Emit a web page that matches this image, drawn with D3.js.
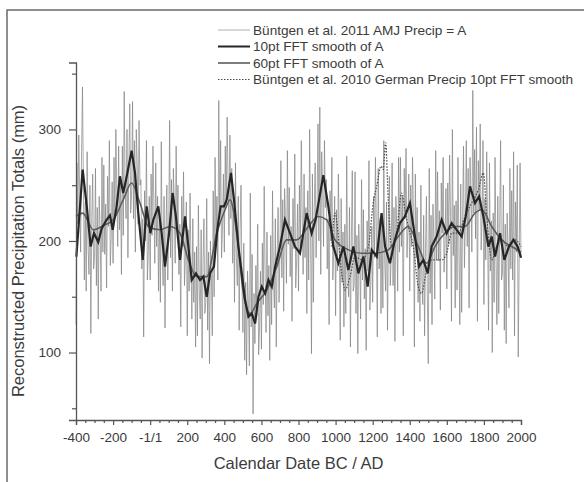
<!DOCTYPE html>
<html>
<head>
<meta charset="utf-8">
<script src="https://cdn.jsdelivr.net/npm/d3@7"></script>
<style>
  body { margin: 0; background: #fff; }
  svg { display: block; font-family: "Liberation Sans", Arial, sans-serif; }
</style>
</head>
<body>
<div id="chart"></div>
<script>
// annual AMJ precipitation (mm), one value every 5 years from -400 to 2000
var annualPrecip = [
  125, 270, 215, 295, 240, 190, 280, 338, 250, 165, 235, 155, 280, 195, 170, 250, 117, 220, 260, 175, // -400
  185, 265, 160, 230, 130, 240, 210, 155, 275, 190, 268, 188, 233, 158, 258, 213, 290, 178, 203, 253, // -300
  180, 275, 220, 300, 245, 195, 285, 210, 255, 170, 285, 205, 334, 245, 220, 300, 185, 270, 323, 225, // -200
  245, 325, 220, 290, 190, 300, 270, 215, 308, 250, 255, 175, 220, 114, 245, 200, 290, 165, 190, 240, // -100
  165, 260, 205, 285, 230, 180, 270, 195, 240, 155, 225, 145, 289, 185, 160, 240, 122, 210, 250, 165, // 0
  210, 308, 185, 255, 155, 265, 235, 180, 285, 215, 250, 170, 215, 123, 240, 195, 262, 160, 185, 235, // 100
  115, 210, 155, 243, 180, 130, 220, 145, 190, 105, 195, 115, 232, 155, 130, 210, 95, 180, 220, 135,  // 200
  145, 238, 120, 190, 90, 200, 170, 115, 245, 150, 275, 195, 240, 165, 326, 220, 290, 185, 210, 260,  // 300
  190, 285, 230, 311, 255, 205, 295, 220, 265, 180, 225, 145, 270, 185, 160, 240, 120, 210, 250, 165, // 400
  118, 198, 93, 163, 80, 173, 143, 88, 243, 123, 188, 45, 153, 108, 178, 133, 215, 98, 123, 173,      // 500
  103, 198, 143, 249, 168, 118, 208, 133, 178, 93, 205, 125, 245, 165, 140, 220, 105, 190, 230, 145,  // 600
  192, 272, 167, 237, 137, 247, 217, 162, 281, 197, 248, 168, 213, 128, 238, 193, 278, 158, 183, 233, // 700
  155, 250, 195, 290, 220, 170, 260, 185, 230, 135, 245, 165, 300, 205, 99, 260, 145, 230, 270, 185,  // 800
  225, 305, 200, 320, 170, 280, 250, 195, 290, 230, 255, 175, 220, 125, 245, 200, 275, 165, 190, 240, // 900
  133, 228, 173, 260, 198, 111, 238, 163, 208, 123, 215, 135, 276, 175, 150, 230, 105, 200, 263, 155, // 1000
  160, 262, 135, 205, 99, 215, 185, 130, 255, 165, 228, 148, 193, 102, 218, 173, 272, 138, 163, 213,  // 1100
  145, 240, 185, 275, 210, 114, 265, 175, 220, 135, 220, 140, 290, 180, 155, 235, 120, 205, 258, 160, // 1200
  185, 270, 160, 230, 110, 240, 210, 155, 275, 190, 275, 195, 240, 115, 265, 220, 283, 185, 210, 260, // 1300
  155, 250, 195, 275, 220, 105, 260, 185, 230, 145, 208, 128, 250, 168, 143, 223, 115, 193, 240, 148, // 1400
  90, 265, 153, 223, 125, 233, 203, 148, 281, 183, 262, 182, 227, 138, 252, 207, 275, 172, 197, 247,  // 1500
  157, 252, 197, 277, 222, 128, 300, 187, 232, 140, 236, 156, 275, 196, 125, 251, 136, 221, 285, 176, // 1600
  220, 290, 195, 265, 140, 275, 245, 190, 335, 225, 282, 202, 302, 128, 272, 227, 305, 192, 217, 290, // 1700
  143, 238, 183, 280, 208, 120, 270, 173, 218, 100, 225, 145, 275, 185, 125, 240, 135, 210, 290, 165, // 1800
  170, 250, 120, 215, 108, 225, 195, 140, 265, 175, 245, 165, 280, 115, 235, 190, 268, 96, 180, 270,  // 1900
  185                                                                                                 // 2000
];

// 10pt FFT smooth of A
var smooth10Years = [
  -398, -364, -342, -321, -303, -280, -262, -235, -217, -202, -181, -163, -145, -123,
  -100, -82, -64, -40, -19, 1, 17, 44, 62, 80, 102, 121, 139, 161, 188, 206, 224, 247,
  269, 287, 305, 323, 344, 362, 380, 398, 413, 436, 452, 476, 494, 512, 530, 548, 566,
  584, 602, 620, 638, 656, 674, 700, 727, 754, 781, 808, 844, 871, 892, 934, 961, 988,
  1015, 1042, 1069, 1096, 1123, 1150, 1173, 1195, 1222, 1248, 1267, 1293, 1320, 1347,
  1374, 1401, 1428, 1450, 1473, 1497, 1518, 1545, 1572, 1599, 1626, 1653, 1680, 1702,
  1725, 1752, 1774, 1797, 1824, 1842, 1860, 1887, 1910, 1935, 1959, 1982, 2000
];
var smooth10Values = [
  186, 264, 231, 195, 207, 199, 211, 219, 223, 210, 231, 258, 243, 261,
  281, 261, 225, 183, 231, 207, 219, 231, 207, 177, 207, 243, 222, 183, 222, 195, 165, 171,
  165, 168, 150, 171, 177, 210, 231, 231, 237, 261, 237, 195, 171, 147, 132, 135, 126,
  150, 159, 153, 165, 159, 177, 195, 219, 207, 195, 189, 225, 207, 219, 259, 231, 195,
  180, 195, 174, 195, 171, 186, 159, 192, 186, 225, 195, 180, 201, 216,
  222, 234, 204, 177, 183, 171, 195, 204, 219, 207, 216, 210, 204, 222,
  249, 234, 240, 222, 195, 204, 186, 207, 183, 195, 201, 195, 185
];

// 60pt FFT smooth of A
var smooth60Years = [
  -400, -364, -306, -252, -199, -145, -100, -55, -10, 53, 107, 161, 206, 251, 305, 359,
  404, 431, 467, 503, 539, 575, 629, 683, 736, 790, 853, 907, 952, 997, 1069, 1141,
  1213, 1284, 1338, 1392, 1446, 1491, 1536, 1590, 1644, 1698, 1752, 1788, 1842, 1896,
  1950, 2000
];
var smooth60Values = [
  222, 225, 210, 214, 219, 237, 252, 234, 213, 210, 213, 207, 183, 168, 168, 207,
  228, 237, 207, 153, 135, 144, 156, 177, 201, 201, 213, 222, 219, 201, 192, 189,
  189, 192, 204, 213, 195, 180, 195, 207, 213, 213, 225, 228, 213, 201,
  195, 190
];

// Buntgen et al. 2010 German precip, 10pt FFT smooth
var germanYears = [
  980, 997, 1033, 1051, 1078, 1105, 1141, 1177, 1203, 1222, 1245, 1257, 1270, 1284,
  1302, 1329, 1356, 1374, 1392, 1419, 1446, 1464, 1491, 1518, 1572, 1599, 1626, 1662,
  1698, 1734, 1770, 1797, 1815, 1842, 1869, 1896, 1932, 1968, 2000
];
var germanValues = [
  195, 225, 171, 156, 168, 186, 183, 195, 234, 249, 267, 264, 288, 237,
  195, 207, 243, 228, 213, 195, 159, 153, 174, 183, 183, 189, 207, 207,
  222, 234, 246, 261, 222, 183, 195, 201, 195, 201, 195
];

var xTicks = [-400, -200, 0, 200, 400, 600, 800, 1000, 1200, 1400, 1600, 1800, 2000];
var xTickLabels = ["-400", "-200", "-1/1", "200", "400", "600", "800", "1000", "1200",
  "1400", "1600", "1800", "2000"];
var yTicks = [100, 200, 300];
var yMinorTicks = [50, 150, 250, 350];
var legendLabels = [
  "Büntgen et al. 2011 AMJ Precip = A",
  "10pt FFT smooth of A",
  "60pt FFT smooth of A",
  "Büntgen et al. 2010 German Precip 10pt FFT smooth"
];

var width = 584, height = 482;
var plot = { left: 76, right: 521, top: 62.5, bottom: 420 };

var svg = d3.select("#chart").append("svg")
  .attr("width", width)
  .attr("height", height);

// frame of the figure
svg.append("path")
  .attr("d", "M7,482 L7,10 L584,10")
  .attr("fill", "none")
  .attr("stroke", "#6a6a6a")
  .attr("stroke-width", 1.5);

var xScale = d3.scaleLinear().domain([-400, 2000]).range([plot.left, plot.right]);
var yScale = d3.scaleLinear().domain([39.5, 360]).range([plot.bottom, plot.top]);

var annualYears = d3.range(-400, 2001, 5);

function series(years, values) {
  return years.map(function (yr, i) {
    return { year: yr, value: values[i] };
  });
}

var line = d3.line()
  .x(function (d) { return xScale(d.year); })
  .y(function (d) { return yScale(d.value); });

// annual series, drawn segment by segment so overlaps darken like the original
svg.append("g")
  .selectAll("line")
  .data(d3.pairs(series(annualYears, annualPrecip)))
  .enter()
  .append("line")
  .attr("x1", function (p) { return xScale(p[0].year); })
  .attr("y1", function (p) { return yScale(p[0].value); })
  .attr("x2", function (p) { return xScale(p[1].year); })
  .attr("y2", function (p) { return yScale(p[1].value); })
  .attr("stroke", "#808080")
  .attr("stroke-opacity", 0.68)
  .attr("stroke-width", 1);

// german precip dotted
svg.append("path")
  .datum(series(germanYears, germanValues))
  .attr("fill", "none")
  .attr("stroke", "#4a4a4a")
  .attr("stroke-width", 1.2)
  .attr("stroke-dasharray", "1.5,1.5")
  .attr("d", line.curve(d3.curveMonotoneX));

// 60pt smooth
svg.append("path")
  .datum(series(smooth60Years, smooth60Values))
  .attr("fill", "none")
  .attr("stroke", "#5c5c5c")
  .attr("stroke-width", 1.6)
  .attr("d", line.curve(d3.curveMonotoneX));

// 10pt smooth
svg.append("path")
  .datum(series(smooth10Years, smooth10Values))
  .attr("fill", "none")
  .attr("stroke", "#262626")
  .attr("stroke-width", 2.2)
  .attr("d", line.curve(d3.curveLinear));

// axes
var xMinor = d3.range(-350, 2000, 50).filter(function (v) { return v % 200 !== 0; });

var gxMinor = svg.append("g")
  .attr("transform", "translate(0," + plot.bottom + ")")
  .call(d3.axisBottom(xScale).tickValues(xMinor).tickSize(3).tickFormat(""));
gxMinor.select(".domain").remove();

var gx = svg.append("g")
  .attr("transform", "translate(0," + plot.bottom + ")")
  .call(d3.axisBottom(xScale).tickValues(xTicks).tickSizeOuter(0).tickSize(5).tickPadding(7)
    .tickFormat(function (d, i) { return xTickLabels[i]; }));

var gyMinor = svg.append("g")
  .attr("transform", "translate(" + plot.left + ",0)")
  .call(d3.axisLeft(yScale).tickValues(yMinorTicks).tickSize(4).tickFormat(""));
gyMinor.select(".domain").remove();

var gy = svg.append("g")
  .attr("transform", "translate(" + plot.left + ",0)")
  .call(d3.axisLeft(yScale).tickValues(yTicks).tickSizeOuter(0).tickSize(7).tickPadding(8));

svg.selectAll(".tick line").attr("stroke", "#555").attr("stroke-width", 1.2);
svg.selectAll(".domain").attr("stroke", "#555").attr("stroke-width", 1.3);
svg.selectAll(".tick text")
  .attr("fill", "#3c3c3c")
  .style("font-size", "13.5px")
  .style("font-family", "'Liberation Sans', Arial, sans-serif");

// axis titles
svg.append("text")
  .attr("x", (plot.left + plot.right) / 2)
  .attr("y", 469)
  .attr("text-anchor", "middle")
  .attr("fill", "#3c3c3c")
  .style("font-size", "16.5px")
  .text("Calendar Date BC / AD");

svg.append("text")
  .attr("transform", "translate(24,251) rotate(-90)")
  .attr("text-anchor", "middle")
  .attr("fill", "#3c3c3c")
  .style("font-size", "16.5px")
  .text("Reconstructed Precipitation Totals (mm)");

// legend
var legendStyles = [
  { stroke: "#b0b0b0", width: 1, dash: null },
  { stroke: "#262626", width: 2, dash: null },
  { stroke: "#5c5c5c", width: 1.6, dash: null },
  { stroke: "#4a4a4a", width: 1.2, dash: "1.5,1.5" }
];
var legend = svg.append("g").attr("transform", "translate(218,30)");
var rows = legend.selectAll("g").data(legendLabels).enter().append("g")
  .attr("transform", function (d, i) { return "translate(0," + i * 16.5 + ")"; });
rows.append("line")
  .attr("x1", 0).attr("x2", 32).attr("y1", 0).attr("y2", 0)
  .attr("stroke", function (d, i) { return legendStyles[i].stroke; })
  .attr("stroke-width", function (d, i) { return legendStyles[i].width; })
  .attr("stroke-dasharray", function (d, i) { return legendStyles[i].dash; });
rows.append("text")
  .attr("x", 35)
  .attr("dy", "0.35em")
  .attr("fill", "#3c3c3c")
  .style("font-size", "13.6px")
  .text(function (d) { return d; });
</script>
</body>
</html>
